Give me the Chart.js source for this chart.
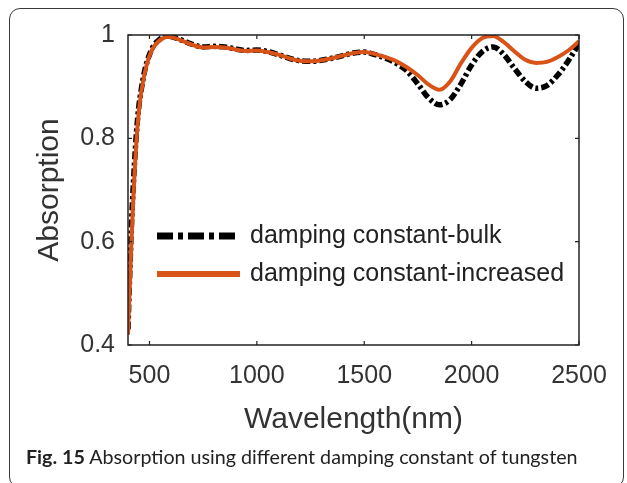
<!DOCTYPE html>
<html>
<head>
<meta charset="utf-8">
<script src="https://cdn.jsdelivr.net/npm/chart.js@4.4.1/dist/chart.umd.min.js"></script>
<style>
  html, body { margin: 0; padding: 0; background: #fff; }
  #wrap { position: relative; width: 627px; height: 483px; overflow: hidden; }
  #frame {
    position: absolute; left: 9px; top: 8px; width: 615px; height: 480px;
    border: 1.5px solid #3a3a3a; border-radius: 11px; box-sizing: border-box;
  }
  #myChart { position: absolute; left: 0; top: 0; }
  #caption {
    position: absolute; left: 26px; top: 445px; white-space: nowrap;
    font-family: Lato, "Open Sans", sans-serif; font-size: 19.7px; color: #222;
  }
  #caption b { font-weight: bold; }
</style>
</head>
<body>
<div id="wrap">
  <div id="frame"></div>
  <canvas id="myChart" width="627" height="483"></canvas>
  <div id="caption"><b>Fig. 15</b> Absorption using different damping constant of tungsten</div>
</div>
<script>
// Données
const wavelength = [400, 405, 410, 415, 420, 430, 440, 450, 460, 470, 480, 490, 500, 520, 540, 560, 580, 600, 625, 650,
  700, 750, 800, 850, 900, 950, 1000, 1050, 1100, 1150, 1200, 1250, 1300, 1350, 1400, 1450, 1500, 1550, 1600, 1650,
  1700, 1750, 1800, 1850, 1900, 1950, 2000, 2050, 2100, 2150, 2200, 2250, 2300, 2350, 2400, 2450, 2500];

const absBulk = [0.43, 0.50, 0.56, 0.62, 0.67, 0.75, 0.815, 0.86, 0.89, 0.915, 0.935, 0.95, 0.962, 0.98, 0.989, 0.995, 0.998, 0.997, 0.994, 0.99,
  0.982, 0.977, 0.978, 0.977, 0.973, 0.970, 0.971, 0.968, 0.962, 0.955, 0.950, 0.949, 0.951, 0.955, 0.960, 0.965, 0.967, 0.962, 0.955, 0.945,
  0.93, 0.905, 0.878, 0.865, 0.875, 0.905, 0.942, 0.968, 0.977, 0.962, 0.935, 0.910, 0.897, 0.902, 0.922, 0.950, 0.983];

const absIncreased = [0.42, 0.48, 0.53, 0.59, 0.64, 0.73, 0.80, 0.85, 0.885, 0.91, 0.93, 0.947, 0.96, 0.977, 0.987, 0.993, 0.996, 0.996, 0.993, 0.989,
  0.981, 0.976, 0.977, 0.976, 0.972, 0.969, 0.970, 0.967, 0.962, 0.955, 0.950, 0.949, 0.951, 0.955, 0.960, 0.965, 0.967, 0.963, 0.957, 0.949,
  0.937, 0.922, 0.904, 0.894, 0.910, 0.945, 0.975, 0.994, 0.998, 0.986, 0.968, 0.952, 0.946, 0.948, 0.957, 0.970, 0.988];

const xTicks = [500, 1000, 1500, 2000, 2500];
const yTicks = [0.4, 0.6, 0.8, 1];

const seriesLabels = ['damping constant-bulk', 'damping constant-increased'];

// Cadre du graphique + petites graduations vers l'intérieur (style MATLAB)
const boxPlugin = {
  id: 'box',
  afterDatasetsDraw(chart) {
    const { ctx, chartArea: a, scales } = chart;
    ctx.save();
    ctx.strokeStyle = '#222';
    ctx.lineWidth = 1.5;
    ctx.strokeRect(a.left, a.top, a.right - a.left, a.bottom - a.top);
    ctx.lineWidth = 1.2;
    ctx.beginPath();
    xTicks.forEach(v => {
      const x = scales.x.getPixelForValue(v);
      ctx.moveTo(x, a.bottom); ctx.lineTo(x, a.bottom - 4);
      ctx.moveTo(x, a.top); ctx.lineTo(x, a.top + 4);
    });
    yTicks.forEach(v => {
      const y = scales.y.getPixelForValue(v);
      ctx.moveTo(a.left, y); ctx.lineTo(a.left + 4, y);
      ctx.moveTo(a.right, y); ctx.lineTo(a.right - 4, y);
    });
    ctx.stroke();
    ctx.restore();
  }
};

// Légende dessinée dans la zone du graphique
const legendPlugin = {
  id: 'innerLegend',
  afterDraw(chart) {
    const { ctx } = chart;
    const rows = [236, 274];
    ctx.save();
    chart.data.datasets.forEach((ds, i) => {
      const y = rows[i];
      ctx.beginPath();
      ctx.strokeStyle = ds.borderColor;
      ctx.lineWidth = i === 0 ? 7 : 6;
      ctx.setLineDash(i === 0 ? [16, 5, 5, 5] : []);
      ctx.moveTo(157, y);
      ctx.lineTo(240, y);
      ctx.stroke();
      ctx.setLineDash([]);
      ctx.fillStyle = '#222';
      ctx.font = '25px "Liberation Sans", Arial, sans-serif';
      ctx.textBaseline = 'middle';
      ctx.fillText(ds.label, 250, y);
    });
    ctx.restore();
  }
};

function displayChart() {
  const ctx = document.getElementById('myChart').getContext('2d');
  new Chart(ctx, {
    type: 'line',
    data: {
      datasets: [
        {
          label: seriesLabels[0],
          data: wavelength.map((x, i) => ({ x: x, y: absBulk[i] })),
          borderColor: '#000000',
          borderWidth: 5.5,
          borderDash: [8, 3, 3, 3],
          pointRadius: 0,
          cubicInterpolationMode: 'monotone',
          order: 2,
        },
        {
          label: seriesLabels[1],
          data: wavelength.map((x, i) => ({ x: x, y: absIncreased[i] })),
          borderColor: '#D95319',
          borderWidth: 4,
          pointRadius: 0,
          cubicInterpolationMode: 'monotone',
          order: 1,
        },
      ],
    },
    options: {
      responsive: false,
      animation: false,
      layout: { padding: { left: 0, top: 35, right: 48, bottom: 38 } },
      plugins: { legend: { display: false }, tooltip: { enabled: false } },
      scales: {
        x: {
          type: 'linear',
          min: 400,
          max: 2500,
          afterBuildTicks: s => { s.ticks = xTicks.map(v => ({ value: v })); },
          afterFit: s => { s.height = 100; },
          grid: { display: false, drawTicks: false },
          border: { display: false },
          ticks: {
            padding: 16,
            color: '#333',
            font: { family: '"Liberation Sans", Arial, sans-serif', size: 25 },
            maxRotation: 0,
            callback: v => String(v),
          },
          title: {
            display: true,
            text: 'Wavelength(nm)',
            color: '#333',
            font: { family: '"Liberation Sans", Arial, sans-serif', size: 30 },
            padding: { top: 0, bottom: 7 },
          },
        },
        y: {
          type: 'linear',
          min: 0.4,
          max: 1,
          afterBuildTicks: s => { s.ticks = yTicks.map(v => ({ value: v })); },
          afterFit: s => { s.width = 128; },
          grid: { display: false, drawTicks: false },
          border: { display: false },
          ticks: {
            padding: 13,
            color: '#333',
            font: { family: '"Liberation Sans", Arial, sans-serif', size: 25 },
            callback: v => String(v),
          },
          title: {
            display: true,
            text: 'Absorption',
            color: '#333',
            font: { family: '"Liberation Sans", Arial, sans-serif', size: 30 },
            padding: { top: 32, bottom: 0 },
          },
        },
      },
    },
    plugins: [boxPlugin, legendPlugin],
  });
}

displayChart();
</script>
</body>
</html>
